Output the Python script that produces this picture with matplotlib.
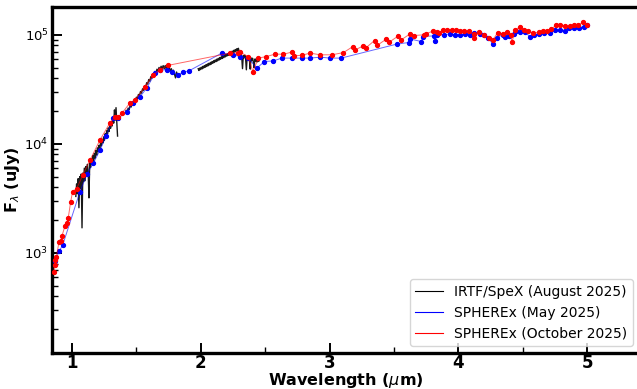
import matplotlib
matplotlib.use("Agg")
import matplotlib.pyplot as plt
from matplotlib.ticker import MultipleLocator

# IRTF/SpeX spectrum (um, uJy), three segments split by telluric gaps
spex_a_wl = [1.030, 1.036, 1.042, 1.048, 1.054, 1.060, 1.066, 1.072, 1.078, 1.084,
             1.090, 1.096, 1.102, 1.108, 1.114, 1.120, 1.126, 1.132, 1.138, 1.144,
             1.150, 1.156, 1.162, 1.168, 1.174, 1.180, 1.186, 1.192, 1.198, 1.204,
             1.210, 1.216, 1.222, 1.228, 1.234, 1.240, 1.246, 1.252, 1.258, 1.264,
             1.270, 1.276, 1.282, 1.288, 1.294, 1.300, 1.306, 1.312, 1.318, 1.324,
             1.330, 1.336, 1.342, 1.348, 1.354]
spex_a_fl = [3300, 4300, 3500, 4800, 2600, 5000, 3900, 5300, 1700, 5400,
             4500, 6000, 4600, 6200, 5100, 6500, 5500, 3200, 6900, 6100,
             7300, 6500, 7800, 7000, 8200, 7400, 8700, 7900, 9200, 8500,
             9700, 9000, 10300, 9600, 11000, 10200, 11600, 10800, 12400, 11500,
             13200, 12300, 14000, 13000, 14900, 13900, 16000, 14600, 17500, 15500,
             20500, 16500, 21500, 15800, 11800]

spex_b_wl = [1.420, 1.428, 1.436, 1.444, 1.452, 1.460, 1.468, 1.476, 1.484, 1.492,
             1.500, 1.508, 1.516, 1.524, 1.532, 1.540, 1.548, 1.556, 1.564, 1.572,
             1.580, 1.588, 1.596, 1.604, 1.612, 1.620, 1.628, 1.636, 1.644, 1.652,
             1.660, 1.668, 1.676, 1.684, 1.692, 1.700, 1.708, 1.716, 1.724, 1.732,
             1.740, 1.748, 1.756, 1.764, 1.772, 1.780, 1.788, 1.796, 1.804, 1.812,
             1.820]
spex_b_fl = [20300, 19300, 21300, 20500, 22700, 21800, 24000, 23200, 25300, 24500,
             26800, 25900, 28400, 27400, 30200, 29200, 32000, 31000, 34100, 33000,
             36400, 35300, 38900, 37600, 41300, 40000, 43800, 42300, 46200, 44700,
             48400, 46500, 50200, 47800, 51500, 49000, 52200, 48800, 52300, 48500,
             51600, 47400, 50300, 46300, 48900, 44800, 47400, 43500, 40300, 45600,
             42800]

spex_c_wl = [1.980, 1.986, 1.992, 1.998, 2.004, 2.010, 2.016, 2.022, 2.028, 2.034,
             2.040, 2.046, 2.052, 2.058, 2.064, 2.070, 2.076, 2.082, 2.088, 2.094,
             2.100, 2.106, 2.112, 2.118, 2.124, 2.130, 2.136, 2.142, 2.148, 2.154,
             2.160, 2.166, 2.172, 2.178, 2.184, 2.190, 2.196, 2.202, 2.208, 2.214,
             2.220, 2.226, 2.232, 2.238, 2.244, 2.250, 2.256, 2.262, 2.268, 2.274,
             2.280, 2.286, 2.292, 2.298, 2.300, 2.306, 2.312, 2.318, 2.324, 2.330,
             2.336, 2.342, 2.348, 2.354, 2.360, 2.366, 2.372, 2.378, 2.384, 2.390,
             2.396, 2.402, 2.408, 2.414, 2.420, 2.426, 2.432, 2.438, 2.444, 2.450,
             2.456]
spex_c_fl = [48900, 47100, 49600, 48000, 50500, 48700, 51400, 49600, 52300, 50400,
             53200, 51200, 54100, 52100, 55000, 53000, 55900, 53900, 56900, 54900,
             57900, 55800, 58800, 56800, 59800, 57700, 60900, 58700, 61900, 59700,
             63000, 60700, 64000, 61700, 65100, 62800, 66200, 63800, 67300, 64900,
             68500, 66000, 69700, 67100, 70900, 68300, 72100, 69500, 73400, 70700,
             74600, 71900, 75300, 70000, 66000, 64000, 66500, 62500, 49000, 64500,
             61500, 65000, 60500, 47800, 63000, 59500, 62500, 58500, 48500, 61500,
             58000, 61000, 57000, 50000, 60000, 57500, 60500, 56500, 59500, 57000,
             60000]

# SPHEREx May 2025
may_wl = [0.868, 0.901, 0.928, 1.062, 1.119, 1.166, 1.218, 1.264, 1.321, 1.360,
          1.425, 1.476, 1.528, 1.580, 1.645, 1.684, 1.736, 1.775, 1.826, 1.865,
          1.909, 2.163, 2.253, 2.305, 2.370, 2.435, 2.494, 2.564, 2.629, 2.707,
          2.785, 2.849, 2.927, 3.005, 3.090, 3.523, 3.613, 3.621, 3.712, 3.725,
          3.807, 3.821, 3.834, 3.885, 3.937, 3.976, 4.015, 4.054, 4.087, 4.124,
          4.170, 4.196, 4.230, 4.266, 4.300, 4.347, 4.364, 4.390, 4.429, 4.450,
          4.481, 4.520, 4.553, 4.584, 4.623, 4.662, 4.714, 4.753, 4.792, 4.831,
          4.856, 4.895, 4.934, 4.973, 4.999]
may_fl = [840, 1040, 1180, 3650, 5350, 6660, 8800, 11700, 17200, 17200,
          19800, 23600, 27100, 32400, 44500, 47800, 47800, 46100, 43000, 45500,
          46800, 68000, 65600, 63200, 61200, 49500, 56900, 57700, 61200, 61200,
          61200, 61200, 62400, 61200, 61200, 82300, 85000, 91900, 86800, 96400,
          97900, 88700, 100000, 100000, 102100, 100000, 100600, 101500, 100600, 103700,
          102100, 100000, 94500, 82700, 94500, 100600, 96500, 97900, 102100, 108800,
          106500, 105800, 96500, 100000, 101500, 103700, 105000, 111100, 111100, 109500,
          115200, 115200, 115200, 119200, 123500]

# SPHEREx October 2025
oct_wl = [0.860, 0.866, 0.872, 0.879, 0.899, 0.915, 0.922, 0.946, 0.961, 0.971,
          0.990, 1.005, 1.037, 1.085, 1.140, 1.218, 1.295, 1.334, 1.357, 1.389,
          1.451, 1.490, 1.567, 1.629, 1.684, 1.746, 2.228, 2.290, 2.305, 2.368,
          2.404, 2.448, 2.507, 2.577, 2.642, 2.707, 2.720, 2.785, 2.849, 2.927,
          3.018, 3.108, 3.181, 3.199, 3.263, 3.282, 3.349, 3.372, 3.440, 3.463,
          3.535, 3.556, 3.626, 3.652, 3.730, 3.751, 3.803, 3.834, 3.846, 3.880,
          3.911, 3.950, 3.984, 4.015, 4.046, 4.079, 4.118, 4.124, 4.157, 4.196,
          4.235, 4.269, 4.305, 4.347, 4.378, 4.409, 4.416, 4.442, 4.476, 4.507,
          4.538, 4.580, 4.623, 4.657, 4.688, 4.719, 4.761, 4.792, 4.831, 4.864,
          4.895, 4.926, 4.968, 4.999]
oct_fl = [670, 860, 776, 920, 1260, 1290, 1430, 1770, 1880, 2090,
          2960, 3640, 3900, 5200, 7100, 10900, 15600, 17700, 17700, 19200,
          23800, 25300, 33400, 43000, 47800, 52500, 68000, 68800, 69300, 63200,
          46000, 61200, 63200, 66500, 66500, 69400, 64200, 65000, 68000, 65600,
          65600, 68800, 78100, 72900, 79300, 76000, 88700, 80400, 91300, 85700,
          97900, 90000, 102100, 98500, 100000, 102800, 108100, 106500, 103700, 111100,
          111100, 111100, 110400, 109500, 108800, 108100, 101500, 93300, 105800, 100000,
          93300, 90000, 105000, 102100, 106500, 100000, 85700, 111100, 117700, 111100,
          109500, 103700, 105800, 108800, 108800, 112800, 122800, 122800, 121000, 121000,
          122800, 122800, 129800, 123500]

fig = plt.figure(figsize=(6.37, 3.89), dpi=100)
ax = fig.add_axes([52 / 637, 36 / 389, 588 / 637, 346 / 389])

for wl, fl in [(spex_a_wl, spex_a_fl), (spex_b_wl, spex_b_fl), (spex_c_wl, spex_c_fl)]:
    ax.plot(wl, fl, color="k", lw=1.0, alpha=0.9, zorder=2)

ax.plot(may_wl, may_fl, color="blue", lw=0.7, alpha=0.6, zorder=3)
ax.plot(may_wl, may_fl, ls="none", marker="o", ms=2.8, color="blue", zorder=3)
ax.plot(oct_wl, oct_fl, color="red", lw=0.7, alpha=0.6, zorder=4)
ax.plot(oct_wl, oct_fl, ls="none", marker="o", ms=2.8, color="red", zorder=4)

# legend proxies (lines only)
ax.plot([], [], color="k", lw=0.8, label="IRTF/SpeX (August 2025)")
ax.plot([], [], color="blue", lw=0.8, label="SPHEREx (May 2025)")
ax.plot([], [], color="red", lw=0.8, label="SPHEREx (October 2025)")
ax.legend(loc="lower right", fontsize=10)

ax.set_yscale("log")
ax.set_xlim(0.845, 5.41)
ax.set_ylim(121, 1.8e5)
ax.xaxis.set_major_locator(MultipleLocator(1))
ax.xaxis.set_minor_locator(MultipleLocator(0.5))

for s in ax.spines.values():
    s.set_linewidth(2.4)
ax.tick_params(which="both", direction="in", top=False, right=False)
ax.tick_params(which="major", length=7, width=1.4)
ax.tick_params(which="minor", length=4, width=1.0)
ax.tick_params(axis="x", labelsize=12, pad=1)
ax.tick_params(axis="y", labelsize=9.5, pad=2.5)
for lab in ax.get_xticklabels():
    lab.set_fontweight("bold")

ax.set_xlabel(r"Wavelength ($\mu$m)", fontsize=11.5, fontweight="bold")
ax.xaxis.set_label_coords(0.5, -0.052)
ax.set_ylabel(r"F$_\lambda$ (uJy)", fontsize=11.5, fontweight="bold")
ax.yaxis.set_label_coords(-0.051, 0.5)

fig.savefig("out.png", dpi=100)
